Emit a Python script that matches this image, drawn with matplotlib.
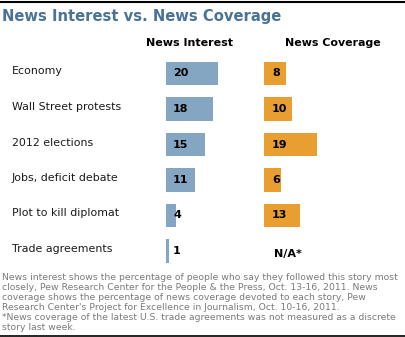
import matplotlib.pyplot as plt
import numpy as np

stories = ['Economy', 'Wall Street protests', '2012 elections',
           'Jobs, deficit debate', 'Plot to kill diplomat', 'Trade agreements']
interest = [20, 18, 15, 11, 4, 1]
coverage = [8, 10, 19, 6, 13, None]  # trade agreements not measured

title = 'News Interest vs. News Coverage'
note = ('News interest shows the percentage of people who say they followed this story most\n'
        'closely, Pew Research Center for the People & the Press, Oct. 13-16, 2011. News\n'
        'coverage shows the percentage of news coverage devoted to each story, Pew\n'
        "Research Center's Project for Excellence in Journalism, Oct. 10-16, 2011.\n"
        '*News coverage of the latest U.S. trade agreements was not measured as a discrete\n'
        'story last week.')

W, H = 405, 337
blue = '#84a6c2'
orange = '#e99e30'

fig = plt.figure(figsize=(W / 100, H / 100), dpi=100)

def px_axes(x0, y0, w, h):
    # axes placed by pixel box measured from the top-left corner
    return fig.add_axes([x0 / W, 1 - (y0 + h) / H, w / W, h / H])

y = np.arange(len(stories))
top, row_h = 55.75, 35.5
ax_int = px_axes(166, top, 52, row_h * len(stories))
ax_cov = px_axes(264, top, 52.8, row_h * len(stories))

ax_int.barh(y, interest, height=0.65, color=blue)
cov_vals = [v if v is not None else 0 for v in coverage]
ax_cov.barh(y, cov_vals, height=0.65, color=orange)
ax_int.set_xlim(0, 20)
ax_cov.set_xlim(0, 19)

for ax in (ax_int, ax_cov):
    ax.set_ylim(len(stories) - 0.5, -0.5)
    ax.axis('off')

for i, v in enumerate(interest):
    ax_int.annotate(str(v), (0, i), xytext=(7, 0), textcoords='offset pixels',
                    ha='left', va='center', fontsize=8, fontweight='bold')
for i, v in enumerate(coverage):
    if v is None:
        ax_cov.annotate('N/A*', (0, i), xytext=(10, -3), textcoords='offset pixels',
                        ha='left', va='center', fontsize=8, fontweight='bold')
    else:
        ax_cov.annotate(str(v), (0, i), xytext=(8, 0), textcoords='offset pixels',
                        ha='left', va='center', fontsize=8, fontweight='bold')

# story names down the left
for i, s in enumerate(stories):
    ax_int.annotate(s, (0, i), xycoords=('figure pixels', 'data'),
                    xytext=(12, 2), textcoords='offset pixels',
                    ha='left', va='center', fontsize=7.95, color='#1a1a1a')

fig.text(2 / W, 1 - 17 / H, title, ha='left', va='center', fontsize=10.6,
         fontweight='bold', color='#4a7396')
fig.text(190 / W, 1 - 43 / H, 'News Interest', ha='center', va='center',
         fontsize=8, fontweight='bold')
fig.text(333 / W, 1 - 43 / H, 'News Coverage', ha='center', va='center',
         fontsize=7.9, fontweight='bold')
fig.text(2 / W, 1 - 272.5 / H, note, ha='left', va='top', fontsize=6.7,
         color='#7a7a7a', linespacing=1.17)

fig.add_artist(plt.Line2D([0, 1], [1 - 1.5 / H] * 2, color='black', lw=1.5))
fig.add_artist(plt.Line2D([0, 1], [1 - 335.5 / H] * 2, color='black', lw=1.2))

fig.savefig('out.png', dpi=100)
